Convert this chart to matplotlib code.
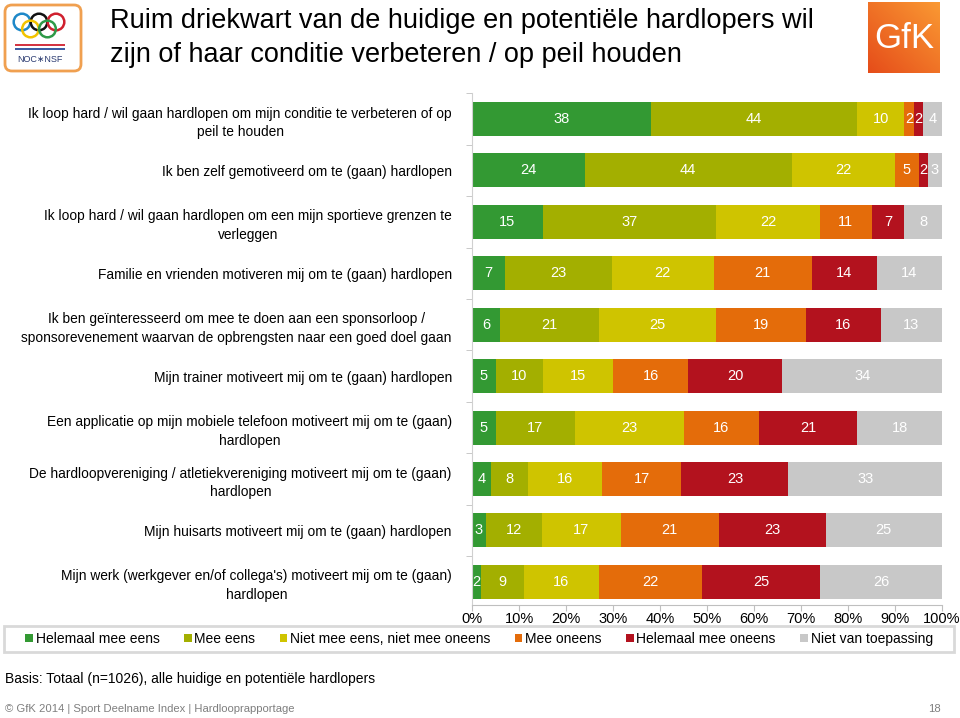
import numpy as np
import matplotlib
matplotlib.use('Agg')
import matplotlib.pyplot as plt
from matplotlib import font_manager
from matplotlib.patches import Patch, Rectangle, FancyBboxPatch, Circle

## data
categories = [
    'Ik loop hard / wil gaan hardlopen om mijn conditie te verbeteren of op\npeil te houden',
    'Ik ben zelf gemotiveerd om te (gaan) hardlopen',
    'Ik loop hard / wil gaan hardlopen om een mijn sportieve grenzen te\nverleggen',
    'Familie en vrienden motiveren mij om te (gaan) hardlopen',
    'Ik ben geïnteresseerd om mee te doen aan een sponsorloop /\nsponsorevenement waarvan de opbrengsten naar een goed doel gaan',
    'Mijn trainer motiveert mij om te (gaan) hardlopen',
    'Een applicatie op mijn mobiele telefoon motiveert mij om te (gaan)\nhardlopen',
    'De hardloopvereniging / atletiekvereniging motiveert mij om te (gaan)\nhardlopen',
    'Mijn huisarts motiveert mij om te (gaan) hardlopen',
    "Mijn werk (werkgever en/of collega's) motiveert mij om te (gaan)\nhardlopen",
]
series_names = ['Helemaal mee eens', 'Mee eens', 'Niet mee eens, niet mee oneens',
                'Mee oneens', 'Helemaal mee oneens', 'Niet van toepassing']
helemaal_mee_eens = [38, 24, 15, 7, 6, 5, 5, 4, 3, 2]
mee_eens = [44, 44, 37, 23, 21, 10, 17, 8, 12, 9]
neutraal = [10, 22, 22, 22, 25, 15, 23, 16, 17, 16]
mee_oneens = [2, 5, 11, 21, 19, 16, 16, 17, 21, 22]
helemaal_mee_oneens = [2, 2, 7, 14, 16, 20, 21, 23, 23, 25]
niet_van_toepassing = [4, 3, 8, 14, 13, 34, 18, 33, 25, 26]
xtick_labels = ['0%', '10%', '20%', '30%', '40%', '50%', '60%', '70%', '80%', '90%', '100%']

colors = ['#339933', '#A3AF00', '#CFC400', '#E46C0A', '#B3121E', '#C8C8C8']

## fonts
installed = {f.name for f in font_manager.fontManager.ttflist}
narrow = 'Liberation Sans Narrow' if 'Liberation Sans Narrow' in installed else 'Liberation Sans'
plt.rcParams['font.family'] = ['Liberation Sans', 'DejaVu Sans']

W, H = 960, 718
fig = plt.figure(figsize=(W / 100, H / 100), dpi=100)

def fx(px):
    return px / W

def fy(py):
    return 1 - py / H

## main axes
ax = fig.add_axes([fx(472), fy(605), fx(942) - fx(472), (605 - 93.3) / H])
data = np.array([helemaal_mee_eens, mee_eens, neutraal, mee_oneens,
                 helemaal_mee_oneens, niet_van_toepassing], dtype=float)
totals = data.sum(axis=0)
y = np.arange(len(categories))
left = np.zeros(len(categories))
for vals, name, col in zip(data, series_names, colors):
    width = vals / totals * 100
    ax.barh(y, width, left=left, height=0.66, color=col, label=name)
    for yi, (l, w, v) in enumerate(zip(left, width, vals)):
        ax.text(l + w / 2, yi, f'{v:.0f}', ha='center', va='center',
                color='white', fontsize=10.5)
    left += width

ax.set_xlim(0, 100)
ax.set_ylim(9.45, -0.5)
ax.set_xticks(np.arange(0, 101, 10))
ax.set_xticklabels(xtick_labels, fontsize=10.5)
ax.set_yticks(y)
ax.set_yticklabels(categories, fontsize=9.9)
for t in ax.get_yticklabels():
    t.set_multialignment('center')
    t.set_linespacing(1.45)
ax.set_yticks(np.arange(-0.5, 9.5, 1), minor=True)
ax.tick_params(axis='y', which='major', length=0, pad=14.5)
ax.tick_params(axis='y', which='minor', length=4, color='#C0C0C0')
ax.tick_params(axis='x', length=4, color='#BFBFBF', pad=1)
for s in ['top', 'right']:
    ax.spines[s].set_visible(False)
ax.spines['bottom'].set_color('#BFBFBF')
ax.spines['left'].set_color('#D0D0D0')

## legend with frame
fig.patches.append(Rectangle((fx(4), fy(652)), fx(954) - fx(4), (652 - 626) / H,
                             transform=fig.transFigure, fill=False,
                             edgecolor='#D9D9D9', linewidth=2))
handles = [Patch(facecolor=c, edgecolor='none') for c in colors]
fig.legend(handles, series_names, loc='center', bbox_to_anchor=(fx(479), fy(639)),
           ncol=6, frameon=False, fontsize=10, handlelength=0.55, handleheight=0.55,
           handletextpad=0.2, columnspacing=1.75)

## title
fig.text(fx(110), fy(21), 'Ruim driekwart van de huidige en potentiële hardlopers wil',
         fontsize=19.5, family=narrow, va='center')
fig.text(fx(110), fy(55), 'zijn of haar conditie verbeteren / op peil houden',
         fontsize=19.5, family=narrow, va='center')

## footer
fig.text(fx(5), fy(679), 'Basis: Totaal (n=1026), alle huidige en potentiële hardlopers',
         fontsize=10, va='center')
fig.text(fx(5), fy(709), '© GfK 2014 | Sport Deelname Index | Hardlooprapportage',
         fontsize=8.1, va='center', color='#7F7F7F')
fig.text(fx(941), fy(709), '18', fontsize=8.1, va='center', ha='right', color='#7F7F7F')

## NOC*NSF logo
lax = fig.add_axes([fx(2), fy(74), fx(84) - fx(2), 72 / H])
lax.set_xlim(0, 82)
lax.set_ylim(72, 0)
lax.axis('off')
lax.add_patch(FancyBboxPatch((3, 3), 76, 66, boxstyle='round,pad=0,rounding_size=7',
                             facecolor='white', edgecolor='#F0A050', linewidth=2))
rings = [(20, 20, '#1E88C8'), (37, 20, '#111111'), (54, 20, '#D0202E'),
         (28.5, 27, '#F2C300'), (45.5, 27, '#2E9A48')]
for cx, cy, rc in rings:
    lax.add_patch(Circle((cx, cy), 8.3, fill=False, edgecolor=rc, linewidth=1.8))
for yy, sc in [(43, '#D0202E'), (45, 'white'), (47, '#2A4C9A')]:
    lax.plot([13, 63], [yy, yy], color=sc, linewidth=1.3, solid_capstyle='butt')
lax.text(38, 58, 'NOC∗NSF', ha='center', va='center', fontsize=6.5,
         family=['Liberation Sans', 'DejaVu Sans'], color='#2A3A70')

## GfK logo
gax = fig.add_axes([fx(868), fy(73), 72 / W, 71 / H])
grad = np.linspace(0, 1, 64)
gx, gy = np.meshgrid(grad, grad)
g = (gx + (1 - gy)) / 2
c0 = np.array([0.90, 0.30, 0.10])
c1 = np.array([0.98, 0.60, 0.20])
img = c0[None, None, :] * (1 - g[:, :, None]) + c1[None, None, :] * g[:, :, None]
gax.imshow(img, extent=(0, 1, 0, 1), aspect='auto')
gax.text(0.5, 0.48, 'GfK', ha='center', va='center', color='white', fontsize=25,
         family=narrow)
gax.set_xlim(0, 1)
gax.set_ylim(0, 1)
gax.axis('off')

fig.savefig('out.png', dpi=100)
